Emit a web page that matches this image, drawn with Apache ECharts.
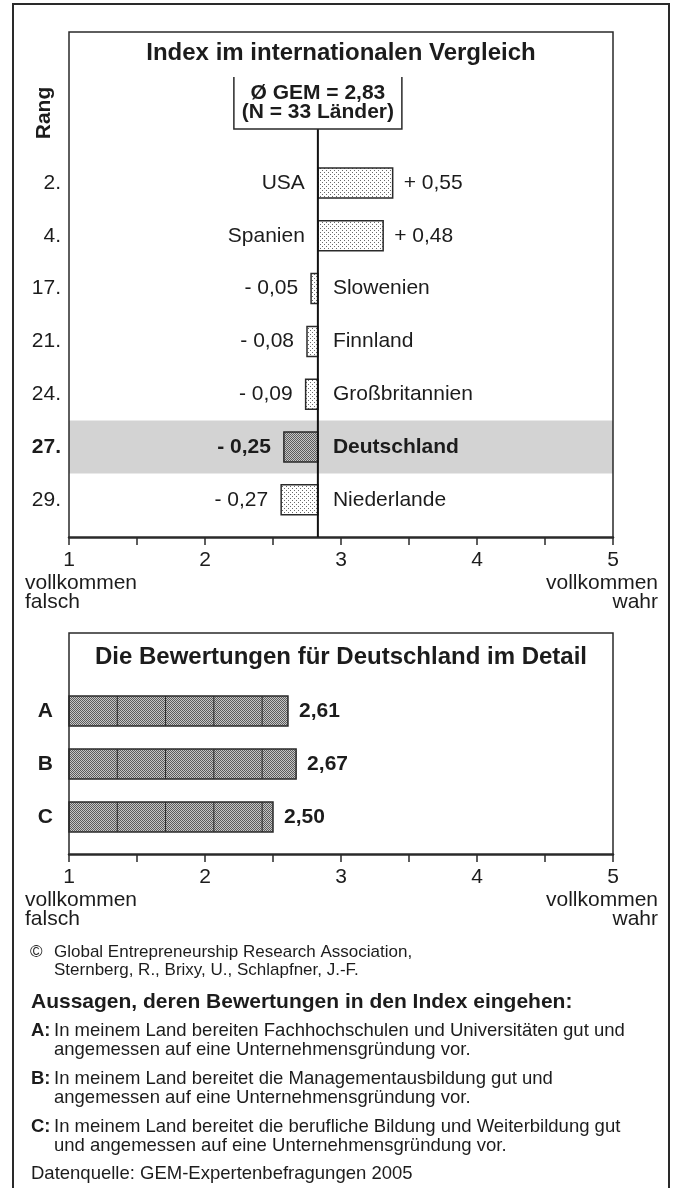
<!DOCTYPE html>
<html><head><meta charset="utf-8">
<script src="https://cdn.jsdelivr.net/npm/echarts@6/dist/echarts.min.js"></script>
<style>html,body{margin:0;padding:0;background:#fff}#c{width:676px;height:1188px}</style>
</head><body><div id="c"></div>
<script>
// ---------- data ----------
const MEAN = 2.83;
const N_COUNTRIES = 33;
const ranks = ['2.', '4.', '17.', '21.', '24.', '27.', '29.'];
const countries = ['USA', 'Spanien', 'Slowenien', 'Finnland', 'Großbritannien', 'Deutschland', 'Niederlande'];
const deviations = [0.55, 0.48, -0.05, -0.08, -0.09, -0.25, -0.27];
const highlightCountry = 'Deutschland';
const detailCategories = ['A', 'B', 'C'];
const detailValues = [2.61, 2.67, 2.50];
const scaleMin = 1, scaleMax = 5;
const scaleLowLabel = ['vollkommen', 'falsch'];
const scaleHighLabel = ['vollkommen', 'wahr'];
const title1 = 'Index im internationalen Vergleich';
const title2 = 'Die Bewertungen für Deutschland im Detail';
const copyrightLines = ['Global Entrepreneurship Research Association,', 'Sternberg, R., Brixy, U., Schlapfner, J.-F.'];
const statementsHeading = 'Aussagen, deren Bewertungen in den Index eingehen:';
const statements = [
  ['In meinem Land bereiten Fachhochschulen und Universitäten gut und', 'angemessen auf eine Unternehmensgründung vor.'],
  ['In meinem Land bereitet die Managementausbildung gut und', 'angemessen auf eine Unternehmensgründung vor.'],
  ['In meinem Land bereitet die berufliche Bildung und Weiterbildung gut', 'und angemessen auf eine Unternehmensgründung vor.']
];
const sourceText = 'Datenquelle: GEM-Expertenbefragungen 2005';

// ---------- styles ----------
const FONT = "'Liberation Sans', Arial, Helvetica, sans-serif";
const TXT = '#1c1c1c';
const LINE = '#2a2a2a';
const f = (size, bold) => (bold ? 'bold ' : '') + size + 'px ' + FONT;
const fmtComma = v => v.toFixed(2).replace('.', ',');
const fmtDev = v => (v >= 0 ? '+ ' : '- ') + fmtComma(Math.abs(v));

function makePattern(size, bg, dots, dotColor) {
  const cv = document.createElement('canvas');
  cv.width = size; cv.height = size;
  const ctx = cv.getContext('2d');
  ctx.fillStyle = bg; ctx.fillRect(0, 0, size, size);
  ctx.fillStyle = dotColor;
  dots.forEach(d => ctx.fillRect(d[0], d[1], 1, 1));
  return { image: cv, repeat: 'repeat' };
}
const lightPat = makePattern(4, '#ffffff', [[0, 0], [2, 2]], '#6a6a6a');
const darkPat = makePattern(2, '#c6c6c6', [[0, 0], [1, 1]], '#5c5c5c');

const BAR_H = 30;
const DIV_STEP = 0.355; // decorative segment width in chart 2 (axis units)

function txt(text, x, y, align, font, extra) {
  return Object.assign({
    type: 'text',
    style: { text: text, x: x, y: y, align: align, textAlign: align, verticalAlign: 'middle', textVerticalAlign: 'middle', font: font, fill: TXT }
  }, extra || {});
}

const xAxisCommon = {
  type: 'value', min: scaleMin, max: scaleMax, interval: 0.5,
  axisLine: { show: true, onZero: false, lineStyle: { color: LINE, width: 2.5 } },
  axisTick: { show: true, inside: false, length: 8, lineStyle: { color: LINE, width: 1.5 } },
  axisLabel: { show: true, margin: 13, color: TXT, fontFamily: FONT, fontSize: 21,
    formatter: v => Number.isInteger(v) ? String(v) : '' },
  splitLine: { show: false }
};

const option = {
  animation: false,
  backgroundColor: '#fff',
  grid: [
    { left: 69, right: 63, top: 156.6, height: 369.6 },
    { left: 69, right: 63, top: 684.5, height: 159 }
  ],
  xAxis: [
    Object.assign({ gridIndex: 0, offset: 10.8 }, xAxisCommon),
    Object.assign({ gridIndex: 1, offset: 10.5 }, xAxisCommon)
  ],
  yAxis: [
    { gridIndex: 0, type: 'category', inverse: true, data: ranks,
      axisLine: { show: false }, axisTick: { show: false }, splitLine: { show: false },
      axisLabel: { margin: 8, color: TXT, fontFamily: FONT, fontSize: 21,
        formatter: (v, i) => countries[i] === highlightCountry ? '{b|' + v + '}' : v,
        rich: { b: { fontWeight: 'bold', fontFamily: FONT, fontSize: 21, color: TXT } } } },
    { gridIndex: 1, type: 'category', inverse: true, data: detailCategories,
      axisLine: { show: false }, axisTick: { show: false }, splitLine: { show: false },
      axisLabel: { margin: 16, color: TXT, fontFamily: FONT, fontSize: 21, fontWeight: 'bold' } }
  ],
  series: [
    {
      type: 'custom', xAxisIndex: 0, yAxisIndex: 0, z: 3,
      data: deviations.map((d, i) => [MEAN + d, i, d]),
      encode: { x: 0, y: 1 },
      renderItem: (params, api) => {
        const idx = api.value(1), dev = api.value(2);
        const p0 = api.coord([MEAN, idx]);
        const p1 = api.coord([MEAN + dev, idx]);
        const cs = params.coordSys;
        const rowH = api.size([0, 1])[1];
        const hl = countries[idx] === highlightCountry;
        const children = [];
        if (hl) {
          children.push({ type: 'rect', shape: { x: cs.x, y: p0[1] - rowH / 2, width: cs.width, height: rowH },
            style: { fill: '#d3d3d3' } });
        }
        const xl = Math.min(p0[0], p1[0]), w = Math.abs(p1[0] - p0[0]);
        children.push({ type: 'rect', shape: { x: xl, y: p0[1] - BAR_H / 2, width: w, height: BAR_H },
          style: { fill: hl ? darkPat : lightPat, stroke: LINE, lineWidth: 1.5 } });
        const fnt = f(21, hl);
        if (dev >= 0) {
          children.push(txt(countries[idx], p0[0] - 13, p0[1], 'right', fnt));
          children.push(txt(fmtDev(dev), p1[0] + 11, p0[1], 'left', fnt));
        } else {
          children.push(txt(fmtDev(dev), p1[0] - 13, p0[1], 'right', fnt));
          children.push(txt(countries[idx], p0[0] + 15, p0[1], 'left', fnt));
        }
        return { type: 'group', children: children };
      }
    },
    {
      type: 'custom', xAxisIndex: 1, yAxisIndex: 1, z: 3,
      data: detailValues.map((v, i) => [v, i]),
      encode: { x: 0, y: 1 },
      renderItem: (params, api) => {
        const v = api.value(0), idx = api.value(1);
        const p0 = api.coord([scaleMin, idx]);
        const p1 = api.coord([v, idx]);
        const children = [{ type: 'rect', shape: { x: p0[0], y: p0[1] - BAR_H / 2, width: p1[0] - p0[0], height: BAR_H },
          style: { fill: darkPat, stroke: LINE, lineWidth: 1.5 } }];
        for (let k = 1; scaleMin + k * DIV_STEP < v - 0.05; k++) {
          const px = api.coord([scaleMin + k * DIV_STEP, idx])[0];
          children.push({ type: 'line', shape: { x1: px, y1: p0[1] - BAR_H / 2, x2: px, y2: p0[1] + BAR_H / 2 },
            style: { stroke: LINE, lineWidth: 1 } });
        }
        children.push(txt(fmtComma(v), p1[0] + 11, p0[1], 'left', f(21, true)));
        return { type: 'group', children: children };
      }
    }
  ]
};

const chart = echarts.init(document.getElementById('c'), null, { renderer: 'canvas' });
chart.setOption(option);

const xm = chart.convertToPixel({ xAxisIndex: 0 }, MEAN);
const xL = chart.convertToPixel({ xAxisIndex: 0 }, scaleMin);
const xR = chart.convertToPixel({ xAxisIndex: 0 }, scaleMax);
const axis1Y = 537, axis2Y = 854;
const box1Top = 32, box2Top = 633;
const cx = (xL + xR) / 2;

const G = [];
// outer frame
G.push({ type: 'rect', z: 50, shape: { x: 13, y: 4, width: 656, height: 1200 }, style: { fill: null, stroke: LINE, lineWidth: 2 } });
// chart boxes (bottom edge = axis)
[[box1Top, axis1Y], [box2Top, axis2Y]].forEach(b => {
  G.push({ type: 'polyline', z: 50, shape: { points: [[xL, b[1]], [xL, b[0]], [xR, b[0]], [xR, b[1]]] },
    style: { fill: null, stroke: LINE, lineWidth: 1.5 } });
});
// titles
G.push(txt(title1, cx, 53, 'center', f(24, true), { z: 50 }));
G.push(txt(title2, cx, 657, 'center', f(24, true), { z: 50 }));
// Rang
G.push({ type: 'text', z: 50, x: 44, y: 113, rotation: Math.PI / 2,
  style: { text: 'Rang', x: 0, y: 0, align: 'center', textAlign: 'center', verticalAlign: 'middle', textVerticalAlign: 'middle', font: f(21, true), fill: TXT } });
// mean line and GEM box
G.push({ type: 'line', z: 60, shape: { x1: xm, y1: 129, x2: xm, y2: axis1Y }, style: { stroke: '#111', lineWidth: 2 } });
G.push({ type: 'polyline', z: 60, shape: { points: [[xm - 84, 77], [xm - 84, 129], [xm + 84, 129], [xm + 84, 77]] },
  style: { fill: null, stroke: LINE, lineWidth: 1.5 } });
G.push(txt('Ø GEM = ' + fmtComma(MEAN), xm, 93, 'center', f(21, true), { z: 60 }));
G.push(txt('(N = ' + N_COUNTRIES + ' Länder)', xm, 112, 'center', f(21, true), { z: 60 }));
// scale end labels
[axis1Y, axis2Y].forEach(ay => {
  G.push(txt(scaleLowLabel[0], 25, ay + 46, 'left', f(21), { z: 50 }));
  G.push(txt(scaleLowLabel[1], 25, ay + 65, 'left', f(21), { z: 50 }));
  G.push(txt(scaleHighLabel[0], 658, ay + 46, 'right', f(21), { z: 50 }));
  G.push(txt(scaleHighLabel[1], 658, ay + 65, 'right', f(21), { z: 50 }));
});
// footer
G.push(txt('©', 30, 952, 'left', f(17), { z: 50 }));
G.push(txt(copyrightLines[0], 54, 952, 'left', f(17), { z: 50 }));
G.push(txt(copyrightLines[1], 54, 970, 'left', f(17), { z: 50 }));
G.push(txt(statementsHeading, 31, 1002, 'left', f(21, true), { z: 50 }));
statements.forEach((lines, i) => {
  const y0 = 1031 + i * 48;
  G.push(txt(detailCategories[i] + ':', 31, y0, 'left', f(18.5, true), { z: 50 }));
  lines.forEach((l, j) => G.push(txt(l, 54, y0 + j * 19, 'left', f(18.5), { z: 50 })));
});
G.push(txt(sourceText, 31, 1174, 'left', f(18.5), { z: 50 }));

chart.setOption({ graphic: G });
</script></body></html>
